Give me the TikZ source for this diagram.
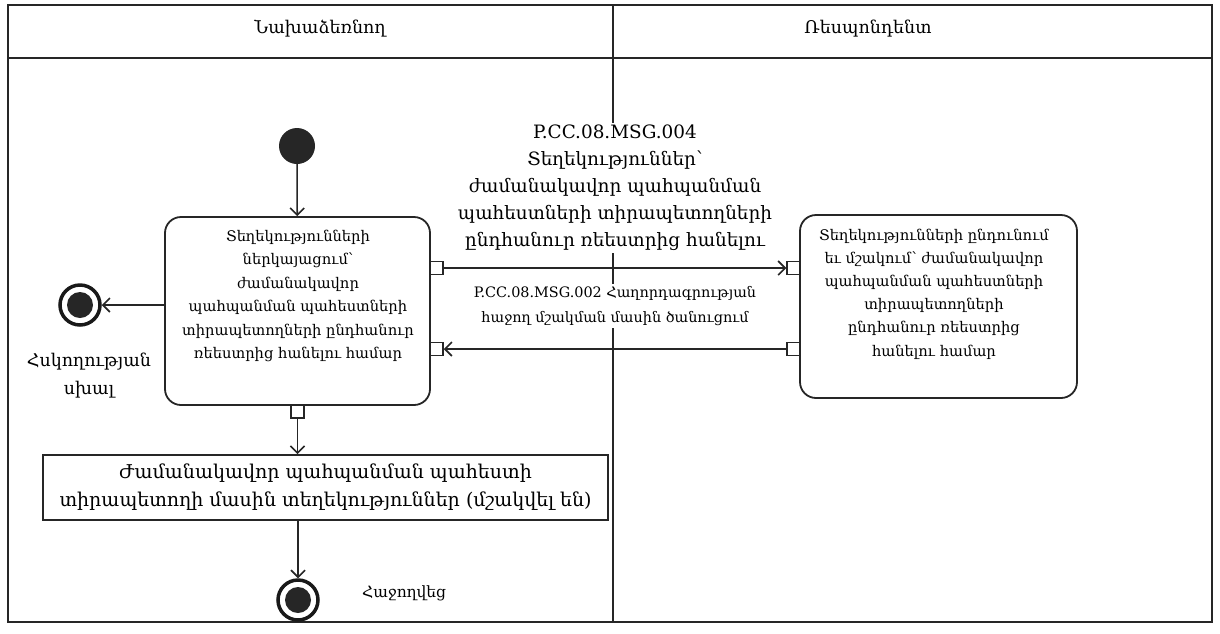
\documentclass[tikz,border=0pt]{standalone}
\usepackage{fontspec}
\setmainfont{DejaVu Serif}
\usetikzlibrary{arrows.meta}
\begin{document}
\begin{tikzpicture}[x=1pt,y=-1pt,
  frame/.style={draw=black!85, line width=1.8pt},
  act/.style={draw=black!85, line width=1.8pt, rounded corners=16pt, inner sep=0pt},
  txt/.style={align=center, inner sep=1pt},
  pinbox/.style={draw=black!85, line width=1.5pt, fill=white, minimum size=13pt, inner sep=0pt},
  flow/.style={draw=black!85, line width=1.6pt, -{Straight Barb[length=7pt,width=14pt,line width=1.6pt]}},
  startdot/.style={circle, fill=black!85, minimum size=36pt, inner sep=0pt},
  enddot/.style={circle, draw=black!90, line width=3.5pt, minimum size=40pt, inner sep=0pt, path picture={\fill[black!85] (path picture bounding box.center) circle (13pt);}}
]
\useasboundingbox (0,0) rectangle (1220,633);
\fill[white] (0,0) rectangle (1220,633);
% swimlanes
\draw[frame] (8,5) rectangle (1212,622);
\draw[frame] (8,58) -- (1212,58);
\draw[frame] (613,5) -- (613,622);
\node[txt, font=\fontsize{17.5}{20}\selectfont] (lane1) at (320,29) {Նախաձեռնող};
\node[txt, font=\fontsize{17.5}{20}\selectfont] (lane2) at (868,29) {Ռեսպոնդենտ};

% start
\node[startdot] (start) at (297,146) {};
% left activity
\node[act, minimum width=265pt, minimum height=188pt] (A) at (297.5,311) {};
\node[txt, font=\fontsize{14.7}{23.4}\selectfont] (Atext) at (298,296) {Տեղեկությունների\\ներկայացում՝\\ժամանակավոր\\պահպանման պահեստների\\տիրապետողների ընդհանուր\\ռեեստրից հանելու համար};
% right activity
\node[act, minimum width=277pt, minimum height=183pt] (B) at (938.5,306.5) {};
\node[txt, font=\fontsize{14.7}{23.2}\selectfont] (Btext) at (934,294) {Տեղեկությունների ընդունում\\եւ մշակում՝ ժամանակավոր\\պահպանման պահեստների\\տիրապետողների\\ընդհանուր ռեեստրից\\հանելու համար};
% pins
\node[pinbox] (pA1) at (436.5,268) {};
\node[pinbox] (pA2) at (436.5,349) {};
\node[pinbox] (pA3) at (297.5,411.5) {};
\node[pinbox] (pB1) at (793.5,268) {};
\node[pinbox] (pB2) at (793.5,349) {};

% bottom object
\node[draw=black!85, line width=1.8pt, minimum width=565pt, minimum height=65pt, txt, font=\fontsize{19}{28}\selectfont] (C) at (325.5,487.5) {Ժամանակավոր պահպանման պահեստի\\տիրապետողի մասին տեղեկություններ (մշակվել են)};

% end states
\node[enddot] (err) at (80,305) {};
\node[txt, font=\fontsize{17.5}{28}\selectfont] (errlbl) at (89,376) {Հսկողության\\սխալ};
\node[enddot] (fin) at (298,600) {};
\node[txt, font=\fontsize{15.5}{18}\selectfont, anchor=west] (finlbl) at (361,593) {Հաջողվեց};

% message labels (white background hides the lane divider)
\node[txt, fill=white, inner sep=2pt, font=\fontsize{18.4}{27}\selectfont] (m1) at (615,188) {P.CC.08.MSG.004\\Տեղեկություններ՝\\ժամանակավոր պահպանման\\պահեստների տիրապետողների\\ընդհանուր ռեեստրից հանելու};
\node[txt, fill=white, inner sep=2pt, font=\fontsize{14.4}{25}\selectfont] (m2) at (615,306) {P.CC.08.MSG.002 Հաղորդագրության\\հաջող մշակման մասին ծանուցում};

% flows
\draw[flow] (start) -- (A);
\draw[flow] (A.west |- err) -- (err);
\draw[flow] (pA3) -- (C.north -| pA3);
\draw[flow] (C.south -| fin) -- (fin);
\draw[flow] (pA1) -- (pB1);
\draw[flow] (pB2) -- (pA2);
\end{tikzpicture}
\end{document}
